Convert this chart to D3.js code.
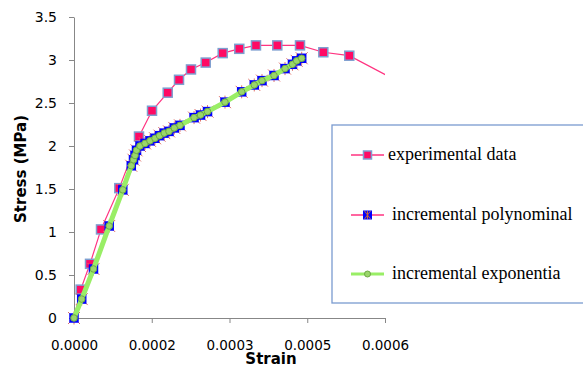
<!DOCTYPE html>
<html>
<head>
<meta charset="utf-8">
<script src="https://cdn.jsdelivr.net/npm/d3@7"></script>
<style>
  body { margin: 0; background: #fff; }
  svg { display: block; }
</style>
</head>
<body>
<div id="chart"></div>
<script>
// experimental data (strain, stress MPa)
const expStrain = [0, 0.0000129, 0.0000309, 0.0000521, 0.0000874, 0.0001254, 0.0001505, 0.0001808,
  0.0002026, 0.0002257, 0.0002541, 0.0002869, 0.0003189, 0.0003511, 0.0003922, 0.000436,
  0.000481, 0.0005311, 0.00066]
const expStress = [0, 0.33, 0.63, 1.03, 1.51, 2.11, 2.41, 2.62, 2.77, 2.89, 2.97, 3.08, 3.13, 3.17,
  3.17, 3.17, 3.09, 3.05, 2.64]

// model curves
const modelStrain = [0, 0.0000149, 0.0000376, 0.0000679, 0.0000941, 0.0001105, 0.0001148, 0.0001177,
  0.0001206, 0.0001273, 0.000137, 0.0001466, 0.0001563, 0.000165, 0.0001742, 0.0001833, 0.0001935,
  0.0002045, 0.0002316, 0.0002441, 0.0002576, 0.0002913, 0.0003235, 0.0003478, 0.0003627,
  0.0003859, 0.0004071, 0.0004215, 0.0004296, 0.0004393]
const polyStress = [0, 0.22, 0.57, 1.07, 1.49, 1.77, 1.84, 1.89, 1.95, 2.0, 2.03, 2.06, 2.09, 2.12,
  2.15, 2.17, 2.21, 2.24, 2.33, 2.36, 2.4, 2.51, 2.63, 2.71, 2.76, 2.82, 2.9, 2.95, 2.99, 3.02]
const expoStress = [0, 0.22, 0.57, 1.07, 1.49, 1.77, 1.84, 1.89, 1.95, 2.0, 2.03, 2.06, 2.09, 2.12,
  2.15, 2.17, 2.21, 2.24, 2.33, 2.36, 2.4, 2.51, 2.63, 2.71, 2.76, 2.82, 2.9, 2.95, 2.99, 3.02]

const yTicks = [0, 0.5, 1, 1.5, 2, 2.5, 3, 3.5]
const xTicks = [0, 0.00015, 0.0003, 0.00045, 0.0006]
const xLabels = ["0.0000", "0.0002", "0.0003", "0.0005", "0.0006"]
const seriesNames = ["experimental data", "incremental polynominal", "incremental exponentia"]

const W = 583, H = 369
const margin = {top: 17, right: 198, bottom: 51, left: 74},
  width = W - margin.left - margin.right,
  height = H - margin.top - margin.bottom

const svg = d3.select("#chart")
  .append("svg")
  .attr("width", W)
  .attr("height", H)

const g = svg.append("g")
  .attr("transform", `translate(${margin.left},${margin.top})`)

const xScale = d3.scaleLinear().domain([0, 0.0006]).range([0, width])
const yScale = d3.scaleLinear().domain([0, 3.5]).range([height, 0])

const axisColor = "#878787"
const tickFont = "'DejaVu Sans', sans-serif"

// Y axis
const yAxis = g.append("g")
  .call(d3.axisLeft(yScale).tickValues(yTicks).tickSize(5).tickSizeOuter(0).tickPadding(12)
    .tickFormat(d => d3.format("")(d)))
yAxis.select(".domain").attr("stroke", axisColor)
yAxis.selectAll(".tick line").attr("stroke", axisColor)
yAxis.selectAll("text").style("font-family", tickFont).style("font-size", "14px").attr("fill", "#000")

// X axis
const xAxis = g.append("g")
  .attr("transform", `translate(0,${height})`)
  .call(d3.axisBottom(xScale).tickValues(xTicks).tickSize(5).tickSizeOuter(0).tickPadding(17)
    .tickFormat((d, i) => xLabels[i]))
xAxis.select(".domain").attr("stroke", axisColor)
xAxis.selectAll(".tick line").attr("stroke", axisColor)
xAxis.selectAll(".tick").filter((d, i) => i === 0).select("line").remove()
xAxis.selectAll("text").style("font-family", tickFont).style("font-size", "13.5px").attr("fill", "#000")

// axis titles
svg.append("text")
  .attr("x", 271)
  .attr("y", 364)
  .attr("text-anchor", "middle")
  .style("font-family", tickFont)
  .style("font-weight", "bold")
  .style("font-size", "15px")
  .text("Strain")

svg.append("text")
  .attr("transform", "translate(26,169) rotate(-90)")
  .attr("text-anchor", "middle")
  .style("font-family", tickFont)
  .style("font-weight", "bold")
  .style("font-size", "15px")
  .text("Stress (MPa)")

// clip for the plot area
svg.append("defs").append("clipPath")
  .attr("id", "plotClip")
  .append("rect")
  .attr("x", 0).attr("y", -10)
  .attr("width", width).attr("height", height + 20)

const pink = "#ff3380"
const line = d3.line().x(d => xScale(d[0])).y(d => yScale(d[1]))

const expData = expStrain.map((d, i) => [d, expStress[i]])
const polyData = modelStrain.map((d, i) => [d, polyStress[i]])
const expoData = modelStrain.map((d, i) => [d, expoStress[i]])

// experimental
g.append("path")
  .datum(expData)
  .attr("clip-path", "url(#plotClip)")
  .attr("fill", "none")
  .attr("stroke", pink)
  .attr("stroke-width", 1.2)
  .attr("d", line)

function squareMarker(sel, size) {
  return sel.append("rect")
    .attr("x", -size / 2).attr("y", -size / 2)
    .attr("width", size).attr("height", size)
}
function starMarker(sel) {
  return sel.append("path")
    .attr("d", "M-6,-6L6,6M-6,6L6,-6M0,-6.5L0,6.5")
    .attr("stroke", "#e0706a")
    .attr("stroke-width", 1)
}

const expPts = g.append("g")
  .selectAll("g")
  .data(expData.filter(d => d[0] <= 0.0006 && d[0] > 0))
  .join("g")
  .attr("transform", d => `translate(${xScale(d[0])},${yScale(d[1])})`)
squareMarker(expPts, 9).attr("fill", "#ff0a64").attr("stroke", "#7d9fd0").attr("stroke-width", 1.5)

// polynomial
g.append("path")
  .datum(polyData)
  .attr("fill", "none")
  .attr("stroke", pink)
  .attr("stroke-width", 1.2)
  .attr("d", line)

const polyPts = g.append("g")
  .selectAll("g")
  .data(polyData)
  .join("g")
  .attr("transform", d => `translate(${xScale(d[0])},${yScale(d[1])})`)
starMarker(polyPts)
squareMarker(polyPts, 9.5).attr("fill", "#0000ff")

// exponential
g.append("path")
  .datum(expoData)
  .attr("fill", "none")
  .attr("stroke", "#99ee66")
  .attr("stroke-width", 5)
  .attr("stroke-linejoin", "round")
  .attr("d", line)

g.append("g")
  .selectAll("circle")
  .data(expoData)
  .join("circle")
  .attr("cx", d => xScale(d[0]))
  .attr("cy", d => yScale(d[1]))
  .attr("r", 3.3)
  .attr("fill", "#9ad66a")
  .attr("stroke", "#6ea846")
  .attr("stroke-width", 1)

// Legend
const legend = svg.append("g")
legend.append("rect")
  .attr("x", 332).attr("y", 125)
  .attr("width", 270).attr("height", 178)
  .attr("fill", "#fff")
  .attr("stroke", "#7a9bd0")
  .attr("stroke-width", 1.3)

const legendY = [155, 215, 274]
const items = legend.selectAll(".item")
  .data(seriesNames)
  .join("g")
  .attr("class", "item")
  .attr("transform", (d, i) => `translate(0,${legendY[i]})`)

items.append("line")
  .attr("x1", 351).attr("x2", 384)
  .attr("stroke", (d, i) => i === 2 ? "#99ee66" : pink)
  .attr("stroke-width", (d, i) => i === 2 ? 3 : 1.5)

items.each(function(d, i) {
  const m = d3.select(this).append("g").attr("transform", "translate(367.5,0)")
  if (i === 0) {
    squareMarker(m, 8).attr("fill", "#ff0a64").attr("stroke", "#7d9fd0").attr("stroke-width", 1.5)
  } else if (i === 1) {
    squareMarker(m, 9).attr("fill", "#0000ff")
    m.append("path").attr("d", "M-3,-4L3,4M-3,4L3,-4M0,-4L0,4")
      .attr("stroke", "#c8643c").attr("stroke-width", 1)
  } else {
    m.append("circle").attr("r", 3).attr("fill", "#9ad66a").attr("stroke", "#6ea846")
  }
})

items.append("text")
  .attr("x", (d, i) => i === 0 ? 388 : 392)
  .attr("dy", "0.3em")
  .style("font-family", "'Liberation Serif', 'Times New Roman', serif")
  .style("font-size", "18px")
  .text(d => d)
</script>
</body>
</html>
